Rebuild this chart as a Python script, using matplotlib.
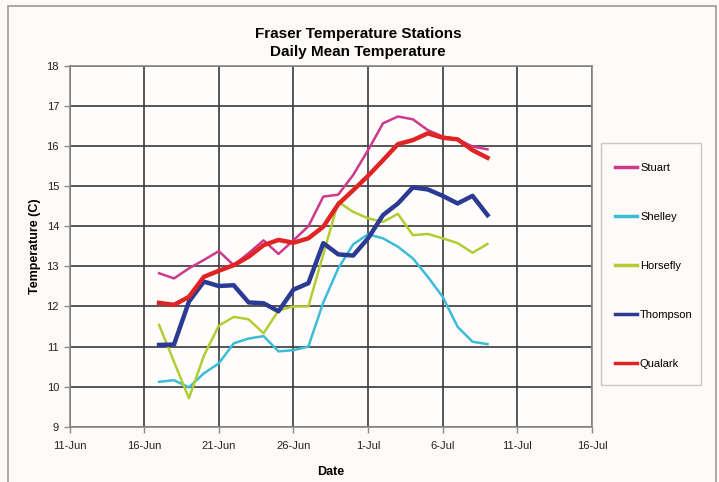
import matplotlib
matplotlib.use("Agg")
import matplotlib.pyplot as plt
import matplotlib.dates as mdates
import matplotlib.patches as mpatches
from matplotlib.ticker import FuncFormatter
import pandas as pd

plt.rcParams['font.family'] = ['Liberation Sans', 'DejaVu Sans']

dates = pd.date_range("2007-06-17", "2007-07-09", freq="D")

stuart = [12.83, 12.70, 12.95, 13.16, 13.38, 13.03, 13.33, 13.65, 13.31, 13.65, 14.0, 14.74,
          14.79, 15.28, 15.9, 16.57, 16.74, 16.67, 16.40, 16.24, 16.17, 15.99, 15.92]
shelley = [10.12, 10.16, 9.98, 10.33, 10.58, 11.08, 11.20, 11.26, 10.88, 10.91, 11.0, 12.1,
           12.95, 13.55, 13.8, 13.70, 13.49, 13.20, 12.74, 12.24, 11.49, 11.12, 11.06]
horsefly = [11.54, 10.62, 9.71, 10.77, 11.52, 11.74, 11.68, 11.33, 11.9, 12.0, 12.0, 13.3,
            14.61, 14.36, 14.2, 14.11, 14.31, 13.78, 13.81, 13.7, 13.58, 13.34, 13.56]
thompson = [11.04, 11.05, 12.12, 12.62, 12.51, 12.53, 12.10, 12.08, 11.88, 12.42, 12.58, 13.58,
            13.30, 13.27, 13.70, 14.28, 14.57, 14.97, 14.92, 14.76, 14.57, 14.76, 14.28]
qualark = [12.09, 12.04, 12.24, 12.74, 12.89, 13.03, 13.24, 13.53, 13.66, 13.59, 13.70, 13.99,
           14.55, 14.9, 15.26, 15.65, 16.05, 16.15, 16.32, 16.21, 16.17, 15.9, 15.71]

series_names = ["Stuart", "Shelley", "Horsefly", "Thompson", "Qualark"]
series_values = [stuart, shelley, horsefly, thompson, qualark]
colors = ["#cc3a8e", "#3cbcd8", "#b4cc34", "#2b3a92", "#e02424"]
widths = [1.8, 1.8, 1.8, 3.2, 3.2]

x_ticks = pd.date_range("2007-06-11", "2007-07-16", freq="5D")
y_ticks = list(range(9, 19))

W, H = 719, 482
fig = plt.figure(figsize=(W / 100, H / 100), dpi=100)
fig.patch.set_facecolor("#fdfaf7")

# outer frame (bottom edge lies outside the image)
fig.patches.append(mpatches.Rectangle((8 / W, 1 - 495 / H), (716 - 8) / W, (495 - 6) / H,
                                      transform=fig.transFigure, fill=False,
                                      edgecolor="#9a9a9a", linewidth=1.2, clip_on=False))
# legend box
fig.patches.append(mpatches.Rectangle((601 / W, 1 - 385 / H), (701 - 601) / W, (385 - 143) / H,
                                      transform=fig.transFigure, facecolor="#fdfaf7",
                                      edgecolor="#c8c8c8", linewidth=1.0))

l, r, t, b = 69.5, 592, 66, 426.7
ax = fig.add_axes([l / W, 1 - b / H, (r - l) / W, (b - t) / H])
ax.set_facecolor("#fffdfb")

for name, vals, c, lw in zip(series_names, series_values, colors, widths):
    ax.plot(dates, vals, color=c, linewidth=lw, label=name, solid_joinstyle="round")

ax.set_xlim(x_ticks[0], x_ticks[-1])
ax.set_ylim(9, 18)
ax.set_xticks(x_ticks)
ax.set_yticks(y_ticks)
ax.xaxis.set_major_formatter(FuncFormatter(
    lambda v, p: f"{mdates.num2date(v).day}-{mdates.num2date(v).strftime('%b')}"))
ax.grid(True, color="#3a3a3a", linewidth=1.2)
ax.set_axisbelow(True)
for s in ax.spines.values():
    s.set_color("#8a8a8a")
    s.set_linewidth(1.2)
ax.tick_params(axis="both", labelsize=8, color="#8a8a8a", length=4, width=1, labelcolor="#222222")
ax.tick_params(axis="x", pad=6)

ax.set_xlabel("Date", fontsize=9, fontweight="bold", labelpad=11)
ax.set_ylabel("Temperature (C)", fontsize=9, fontweight="bold", labelpad=4)

fig.text(358 / W, 1 - 34 / H, "Fraser Temperature Stations", ha="center", va="center",
         fontsize=11, fontweight="bold")
fig.text(358 / W, 1 - 52 / H, "Daily Mean Temperature", ha="center", va="center",
         fontsize=11, fontweight="bold")

leg = fig.legend(loc="upper left", bbox_to_anchor=(595 / W, 1 - 143 / H), fontsize=8,
                 handlelength=2.0, handletextpad=0.25, labelspacing=3.5, borderpad=1.8,
                 frameon=False, borderaxespad=0)
for line in leg.get_lines():
    line.set_linewidth(2.5)

fig.savefig("out.png", dpi=100, facecolor=fig.get_facecolor())
